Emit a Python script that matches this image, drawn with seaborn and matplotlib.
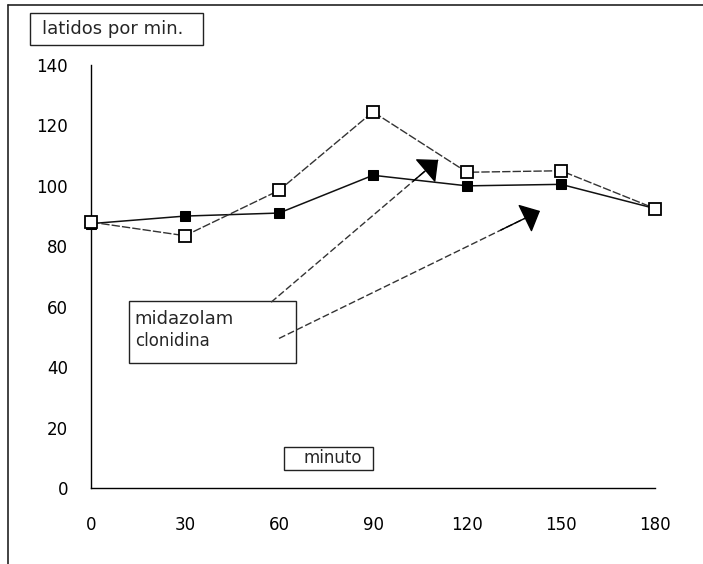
import matplotlib
matplotlib.use("Agg")
import matplotlib.pyplot as plt
import seaborn as sns
import pandas as pd
from matplotlib.patches import Rectangle
from matplotlib.lines import Line2D

# ---- data ----
minutos = [0, 30, 60, 90, 120, 150, 180]
midazolam = [88, 83.5, 98.5, 124.5, 104.5, 105, 92.5]
clonidina = [87.5, 90, 91, 103.5, 100, 100.5, 92.5]
y_ticks = [0, 20, 40, 60, 80, 100, 120, 140]
x_ticks = [0, 30, 60, 90, 120, 150, 180]
serie_names = ["midazolam", "clonidina"]
y_label = "latidos por min."
x_label = "minuto"

# annotation arrows: (start, tip) in data units
arrow_mid = ((57.5, 61.5), (110.8, 108.6))
arrow_clo = ((60, 49.5), (143.3, 91.7))

sns.set_theme(style="white")
plt.rcParams["font.family"] = ["DejaVu Sans"]

W, H = 703, 564
fig = plt.figure(figsize=(W / 100, H / 100), dpi=100)
ax = fig.add_axes([91 / W, 1 - 488 / H, (655 - 91) / W, (488 - 65) / H])

df_c = pd.DataFrame({"minuto": minutos, "latidos": clonidina})
df_m = pd.DataFrame({"minuto": minutos, "latidos": midazolam})

sns.lineplot(data=df_c, x="minuto", y="latidos", ax=ax, color="#111111",
             linewidth=1.1, marker="s", markersize=7, markerfacecolor="black",
             markeredgecolor="black", clip_on=False, zorder=3)
sns.lineplot(data=df_m, x="minuto", y="latidos", ax=ax, color="#333333",
             linewidth=1.0, linestyle=(0, (6, 1.5)), marker="s", markersize=9,
             markerfacecolor="white", markeredgecolor="black",
             markeredgewidth=1.3, clip_on=False, zorder=4)

ax.set_xlim(0, 180)
ax.set_ylim(0, 140)
ax.set_xticks(x_ticks)
ax.set_yticks(y_ticks)
ax.set_xlabel("")
ax.set_ylabel("")
for s in ["top", "right"]:
    ax.spines[s].set_visible(False)
for s in ["left", "bottom"]:
    ax.spines[s].set_color("black")
    ax.spines[s].set_linewidth(1.0)
ax.tick_params(axis="both", direction="inout", length=7, width=1,
               colors="black", labelsize=12)
ax.tick_params(axis="x", pad=17)
ax.tick_params(axis="y", pad=13)

# legend-like box with names
ax.add_patch(Rectangle((12, 41.5), 53.5, 20.5, facecolor="white",
                       edgecolor="#222222", linewidth=1.0, zorder=5))
ax.text(14, 56, serie_names[0], fontsize=13, va="center", ha="left", zorder=6)
ax.text(14, 48.5, serie_names[1], fontsize=12, va="center", ha="left", zorder=6)

# arrows: dashed shaft + solid black head
for (x0, y0), (x1, y1) in (arrow_mid, arrow_clo):
    ax.plot([x0, x1], [y0, y1], color="#333333", lw=1.0,
            linestyle=(0, (5, 2)), zorder=7)
    xm, ym = x0 + 0.85 * (x1 - x0), y0 + 0.85 * (y1 - y0)
    ax.annotate("", xy=(x1, y1), xytext=(xm, ym), zorder=8,
                arrowprops=dict(arrowstyle="-|>,head_length=0.55,head_width=0.5",
                                color="black", linewidth=1.0,
                                mutation_scale=20, shrinkA=0, shrinkB=0))

# x label box
ax.add_patch(Rectangle((61.5, 6), 28.5, 7.5, facecolor="white",
                       edgecolor="#222222", linewidth=1.0, zorder=5,
                       clip_on=False))
ax.text(77, 9.8, x_label, fontsize=12, va="center", ha="center", zorder=6)

# y label box (figure coords)
fig.patches.append(Rectangle((30 / W, 1 - 45 / H), 173 / W, 32 / H,
                             transform=fig.transFigure, facecolor="white",
                             edgecolor="#222222", linewidth=1.0))
fig.text(113 / W, 1 - 29 / H, y_label, fontsize=13, ha="center", va="center")

# scanned page frame
fig.lines.append(Line2D([8 / W, 1], [1 - 5 / H, 1 - 5 / H],
                        transform=fig.transFigure, color="#222222", lw=1.2))
fig.lines.append(Line2D([8 / W, 8 / W], [0, 1 - 5 / H],
                        transform=fig.transFigure, color="#222222", lw=1.2))

fig.savefig("out.png", dpi=100)
